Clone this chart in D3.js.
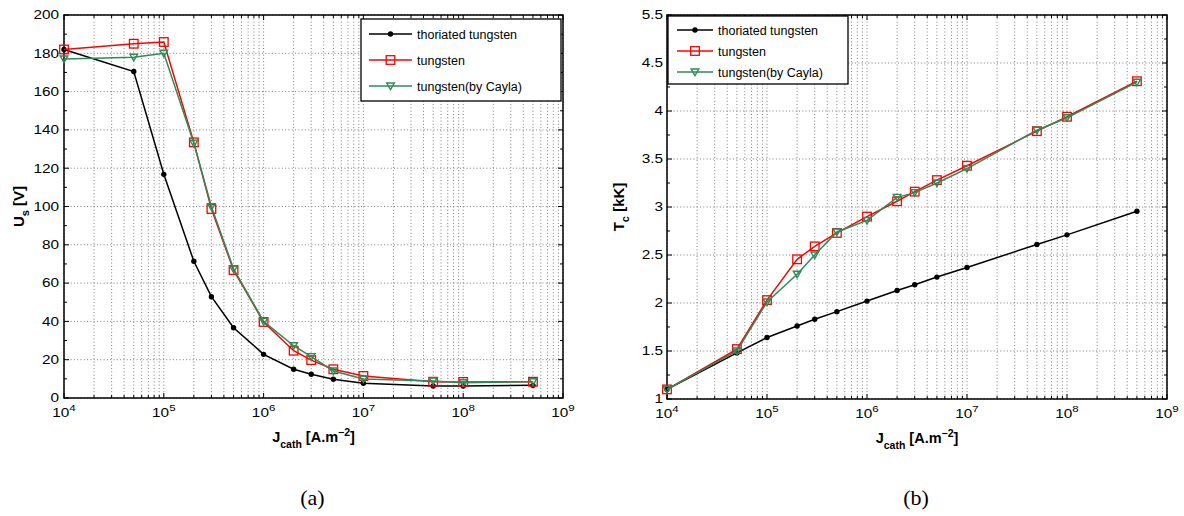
<!DOCTYPE html>
<html>
<head>
<meta charset="utf-8">
<script src="https://cdn.jsdelivr.net/npm/d3@7"></script>
<style>
  body { margin: 0; background: #fff; }
  svg { display: block; }
  text { font-family: "Liberation Sans", Arial, sans-serif; fill: #000; }
</style>
</head>
<body>
<svg id="fig" width="1184" height="516"></svg>
<script>
// shared x values: cathode current density [A.m^-2]
const currentDensity = [1e4, 5e4, 1e5, 2e5, 3e5, 5e5, 1e6, 2e6, 3e6, 5e6, 1e7, 5e7, 1e8, 5e8];
const seriesNames = ["thoriated tungsten", "tungsten", "tungsten(by Cayla)"];

// (a) sheath voltage U_s [V]
const sheathThoriated = [182, 170.5, 116.8, 71.4, 52.9, 36.7, 22.8, 15, 12.4, 9.8, 7.7, 6.3, 6.3, 6.6];
const sheathTungsten  = [182, 185, 185.9, 133.5, 98.7, 66.8, 39.7, 24.7, 19.8, 15, 11.5, 8.5, 8.4, 8.5];
const sheathCayla     = [177, 177.9, 180, 133, 99.9, 67.4, 40, 27.3, 21.6, 14.1, 9.9, 8.9, 8, 8.5];

// (b) cathode temperature T_c [kK]
const tempThoriated = [1.1, 1.48, 1.64, 1.76, 1.83, 1.91, 2.02, 2.13, 2.19, 2.27, 2.37, 2.61, 2.71, 2.955];
const tempTungsten  = [1.1, 1.52, 2.03, 2.455, 2.59, 2.73, 2.9, 3.06, 3.16, 3.28, 3.43, 3.79, 3.94, 4.31];
const tempCayla     = [1.1, 1.5, 2.01, 2.3, 2.5, 2.74, 2.86, 3.1, 3.15, 3.25, 3.4, 3.8, 3.93, 4.3];

// axis ticks
const xDecades = [4, 5, 6, 7, 8, 9];
const sheathTicks = [0, 20, 40, 60, 80, 100, 120, 140, 160, 180, 200];
const sheathTickLabels = ["0", "20", "40", "60", "80", "100", "120", "140", "160", "180", "200"];
const tempTicks = [1, 1.5, 2, 2.5, 3, 3.5, 4, 4.5, 5];
const tempTickLabels = ["1", "1.5", "2", "2.5", "3", "3.5", "4", "4.5", "5.5"];

const colors = ["#000000", "#ff0000", "#2e8b57"];
const markers = ["dot", "square", "triangle"];
const WIDE = 1.28; // tick labels in the figure are drawn wide

const svg = d3.select("#fig");

// draw a marker of given kind at (x, y)
function drawMarker(g, kind, x, y, color) {
  if (kind === "dot") {
    g.append("circle").attr("cx", x).attr("cy", y).attr("r", 2.7).attr("fill", color);
  } else if (kind === "square") {
    g.append("rect").attr("x", x - 4.3).attr("y", y - 4.3).attr("width", 8.6).attr("height", 8.6)
      .attr("fill", "none").attr("stroke", color).attr("stroke-width", 1.3);
  } else {
    g.append("path").attr("d", `M${x - 3.8},${y - 3} L${x + 3.8},${y - 3} L${x},${y + 3.6} Z`)
      .attr("fill", "none").attr("stroke", color).attr("stroke-width", 1.4);
  }
}

// draw one panel
function drawPanel(cfg) {
  const { left, right, top, bottom } = cfg;
  const x = d3.scaleLog().domain([1e4, 1e9]).range([left, right]);
  const y = d3.scaleLinear().domain(cfg.yDomain).range([bottom, top]);
  const g = svg.append("g");

  // minor x positions
  const xMinor = [];
  xDecades.slice(0, -1).forEach((d) => {
    for (let m = 2; m <= 9; m++) xMinor.push(m * Math.pow(10, d));
  });
  const xMajor = xDecades.map((d) => Math.pow(10, d));

  // grid
  const grid = g.append("g").attr("stroke", "#6e6e6e").attr("stroke-width", 0.9)
    .attr("stroke-dasharray", "1,2.3");
  xMajor.concat(xMinor).forEach((v) => {
    grid.append("line").attr("x1", x(v)).attr("x2", x(v)).attr("y1", top).attr("y2", bottom);
  });
  cfg.yTicks.forEach((v) => {
    grid.append("line").attr("x1", left).attr("x2", right).attr("y1", y(v)).attr("y2", y(v));
  });

  // ticks (inward, on all four sides)
  const ticks = g.append("g").attr("stroke", "#000").attr("stroke-width", 1);
  xMajor.forEach((v) => {
    ticks.append("line").attr("x1", x(v)).attr("x2", x(v)).attr("y1", bottom).attr("y2", bottom - 5);
    ticks.append("line").attr("x1", x(v)).attr("x2", x(v)).attr("y1", top).attr("y2", top + 5);
  });
  xMinor.forEach((v) => {
    ticks.append("line").attr("x1", x(v)).attr("x2", x(v)).attr("y1", bottom).attr("y2", bottom - 3);
    ticks.append("line").attr("x1", x(v)).attr("x2", x(v)).attr("y1", top).attr("y2", top + 3);
  });
  cfg.yTicks.forEach((v) => {
    ticks.append("line").attr("x1", left).attr("x2", left + 5).attr("y1", y(v)).attr("y2", y(v));
    ticks.append("line").attr("x1", right).attr("x2", right - 5).attr("y1", y(v)).attr("y2", y(v));
  });
  cfg.yTicks.slice(0, -1).forEach((v, i) => {
    const mid = (v + cfg.yTicks[i + 1]) / 2;
    ticks.append("line").attr("x1", left).attr("x2", left + 3).attr("y1", y(mid)).attr("y2", y(mid));
    ticks.append("line").attr("x1", right).attr("x2", right - 3).attr("y1", y(mid)).attr("y2", y(mid));
  });

  // box
  g.append("rect").attr("x", left).attr("y", top).attr("width", right - left).attr("height", bottom - top)
    .attr("fill", "none").attr("stroke", "#000").attr("stroke-width", 1.5);

  // x tick labels
  xDecades.forEach((d) => {
    const t = g.append("text")
      .attr("transform", `translate(${x(Math.pow(10, d))},${bottom + 19}) scale(${WIDE},1)`)
      .attr("text-anchor", "middle").style("font-size", "12px");
    t.append("tspan").text("10");
    t.append("tspan").attr("dy", -6).style("font-size", "9px").text(d);
  });

  // y tick labels
  cfg.yTicks.forEach((v, i) => {
    g.append("text")
      .attr("transform", `translate(${left - cfg.yLabelGap},${y(v)}) scale(${WIDE},1)`)
      .attr("dy", "0.36em")
      .attr("text-anchor", "end").style("font-size", "12px").text(cfg.yTickLabels[i]);
  });

  // y axis title
  const yt = g.append("text")
    .attr("transform", `translate(${cfg.yTitleX},${(top + bottom) / 2}) rotate(-90)`)
    .attr("text-anchor", "middle").style("font-size", "15px").style("font-weight", "bold");
  yt.append("tspan").text(cfg.yTitle[0]);
  yt.append("tspan").attr("dy", 5).style("font-size", "11px").text(cfg.yTitle[1]);
  yt.append("tspan").attr("dy", -5).text(" " + cfg.yTitle[2]);

  // x axis title
  const xt = g.append("text").attr("x", (left + right) / 2).attr("y", bottom + 44)
    .attr("text-anchor", "middle").style("font-size", "14.5px").style("font-weight", "bold");
  xt.append("tspan").text("J");
  xt.append("tspan").attr("dy", 6).style("font-size", "10.5px").text("cath");
  xt.append("tspan").attr("dy", -6).text(" [A.m");
  xt.append("tspan").attr("dy", -6).style("font-size", "10.5px").text("\u22122");
  xt.append("tspan").attr("dy", 6).text("]");

  // caption
  g.append("text").attr("x", (left + right) / 2 - 1).attr("y", 505).attr("text-anchor", "middle")
    .style("font-family", '"Liberation Serif", "Times New Roman", serif').style("font-size", "22px")
    .text(cfg.caption);

  // series
  const line = d3.line().x((d) => x(d[0])).y((d) => y(d[1]));
  cfg.series.forEach((vals, i) => {
    const pts = currentDensity.map((c, j) => [c, vals[j]]);
    g.append("path").attr("d", line(pts)).attr("fill", "none")
      .attr("stroke", colors[i]).attr("stroke-width", 1.5);
    pts.forEach((p) => drawMarker(g, markers[i], x(p[0]), y(p[1]), colors[i]));
  });

  // legend
  const L = cfg.legend;
  const lg = g.append("g");
  lg.append("rect").attr("x", L.x).attr("y", L.y).attr("width", L.w).attr("height", L.h)
    .attr("fill", "#fff").attr("stroke", "#000").attr("stroke-width", 1.3);
  seriesNames.forEach((name, i) => {
    const cy = L.y + L.first + i * L.step;
    lg.append("line").attr("x1", L.x + L.lineFrom).attr("x2", L.x + L.lineTo)
      .attr("y1", cy).attr("y2", cy).attr("stroke", colors[i]).attr("stroke-width", 1.5);
    drawMarker(lg, markers[i], L.x + (L.lineFrom + L.lineTo) / 2, cy, colors[i]);
    lg.append("text").attr("x", L.x + L.textX).attr("y", cy).attr("dy", "0.36em")
      .style("font-size", "12.5px").text(name);
  });
}

drawPanel({
  left: 64, right: 563, top: 15, bottom: 398,
  yDomain: [0, 200], yTicks: sheathTicks, yTickLabels: sheathTickLabels, yLabelGap: 5,
  yTitle: ["U", "s", "[V]"], yTitleX: 24,
  caption: "(a)",
  series: [sheathThoriated, sheathTungsten, sheathCayla],
  legend: { x: 361, y: 19, w: 200, h: 82, first: 15, step: 26, lineFrom: 8, lineTo: 51, textX: 56 }
});

drawPanel({
  left: 667, right: 1167, top: 15, bottom: 399,
  yDomain: [1, 5], yTicks: tempTicks, yTickLabels: tempTickLabels, yLabelGap: 4,
  yTitle: ["T", "c", "[kK]"], yTitleX: 624,
  caption: "(b)",
  series: [tempThoriated, tempTungsten, tempCayla],
  legend: { x: 668, y: 16, w: 180, h: 68, first: 14, step: 21, lineFrom: 9, lineTo: 45, textX: 50 }
});
</script>
</body>
</html>
